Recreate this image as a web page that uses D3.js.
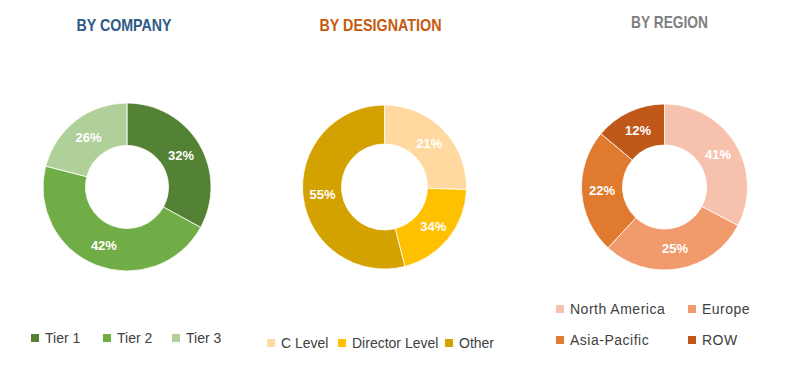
<!DOCTYPE html>
<html>
<head>
<meta charset="utf-8">
<script src="https://cdn.jsdelivr.net/npm/d3@7"></script>
<style>
  html, body { margin: 0; padding: 0; background: #fff; }
  svg { display: block; }
</style>
</head>
<body>
<svg id="chart" width="801" height="389"></svg>
<script>

// by company
var companyCats = ["Tier 1", "Tier 2", "Tier 3"]
var companyShares = [33, 46, 21]          // slice sizes as drawn
var companyLabels = ["32%", "42%", "26%"] // printed labels
var companyColors = ["#548235", "#70ad47", "#b0d09a"]

// by designation
var designationCats = ["C Level", "Director Level", "Other"]
var designationShares = [25.5, 20.5, 54]
var designationLabels = ["21%", "34%", "55%"]
var designationColors = ["#ffd9a0", "#ffc000", "#d4a200"]

// by region
var regionCats = ["North America", "Europe", "Asia-Pacific", "ROW"]
var regionShares = [32.7, 29.2, 24.2, 13.9]
var regionLabels = ["41%", "25%", "22%", "12%"]
var regionColors = ["#f6c2ae", "#f19b6c", "#e07a2f", "#c0581a"]

var svg = d3.select("#chart")

var titleFont = "'Liberation Sans', Arial, sans-serif"
var bodyFont = "'Liberation Sans', Arial, sans-serif"

function drawDonut(opts) {
	var g = svg.append("g")
		.attr("transform", "translate(" + opts.cx + "," + opts.cy + ")")

	var pie = d3.pie().sort(null).value(function (d) { return d })
	var arcs = pie(opts.shares)
	var arc = d3.arc().innerRadius(opts.inner).outerRadius(opts.outer)

	g.selectAll("path")
		.data(arcs)
		.enter()
		.append("path")
		.attr("d", arc)
		.attr("fill", function (d, i) { return opts.colors[i] })
		.attr("stroke", "#fff")
		.attr("stroke-width", 0.8)

	g.selectAll("text.lbl")
		.data(arcs)
		.enter()
		.append("text")
		.attr("class", "lbl")
		.attr("transform", function (d) { return "translate(" + arc.centroid(d) + ")" })
		.attr("dy", "0.35em")
		.attr("text-anchor", "middle")
		.attr("fill", "#fff")
		.attr("font-family", bodyFont)
		.attr("font-weight", "bold")
		.attr("font-size", 13)
		.text(function (d, i) { return opts.labels[i] })

	// titles are set in a condensed face in the original, squeeze to fit
	svg.append("text")
		.attr("x", opts.cx + opts.titleDx)
		.attr("y", opts.titleY)
		.attr("text-anchor", "middle")
		.attr("fill", opts.titleColor)
		.attr("font-family", titleFont)
		.attr("font-weight", "bold")
		.attr("font-size", 17)
		.attr("textLength", opts.titleW)
		.attr("lengthAdjust", "spacingAndGlyphs")
		.text(opts.title)

	// legend
	var items = svg.selectAll(null)
		.data(opts.cats)
		.enter()
		.append("g")
		.attr("transform", function (d, i) { return "translate(" + opts.legend[i][0] + "," + opts.legend[i][1] + ")" })

	items.append("rect")
		.attr("x", 0)
		.attr("y", -9)
		.attr("width", 8)
		.attr("height", 8)
		.attr("fill", function (d, i) { return opts.colors[i] })

	items.append("text")
		.attr("x", 14)
		.attr("y", 0)
		.attr("fill", "#404040")
		.attr("font-family", bodyFont)
		.attr("font-size", 14)
		.attr("letter-spacing", opts.legendSpacing || 0)
		.text(function (d) { return d })
}

drawDonut({
	cx: 127, cy: 187, outer: 84, inner: 41.5,
	shares: companyShares, labels: companyLabels, colors: companyColors, cats: companyCats,
	title: "BY COMPANY", titleColor: "#2e5a86", titleY: 31, titleDx: -3, titleW: 95,
	legend: [[31, 343], [103, 343], [172, 343]]
})

drawDonut({
	cx: 384.5, cy: 187, outer: 82, inner: 43,
	shares: designationShares, labels: designationLabels, colors: designationColors, cats: designationCats,
	title: "BY DESIGNATION", titleColor: "#c55a11", titleY: 31, titleDx: -4, titleW: 122,
	legend: [[267, 348], [338, 348], [445, 348]]
})

drawDonut({
	cx: 664.5, cy: 187, outer: 83, inner: 42,
	shares: regionShares, labels: regionLabels, colors: regionColors, cats: regionCats,
	title: "BY REGION", titleColor: "#7f7f7f", titleY: 28, titleDx: 5, titleW: 77,
	legend: [[556, 314], [688, 314], [556, 345], [688, 345]], legendSpacing: 0.5
})

</script>
</body>
</html>
